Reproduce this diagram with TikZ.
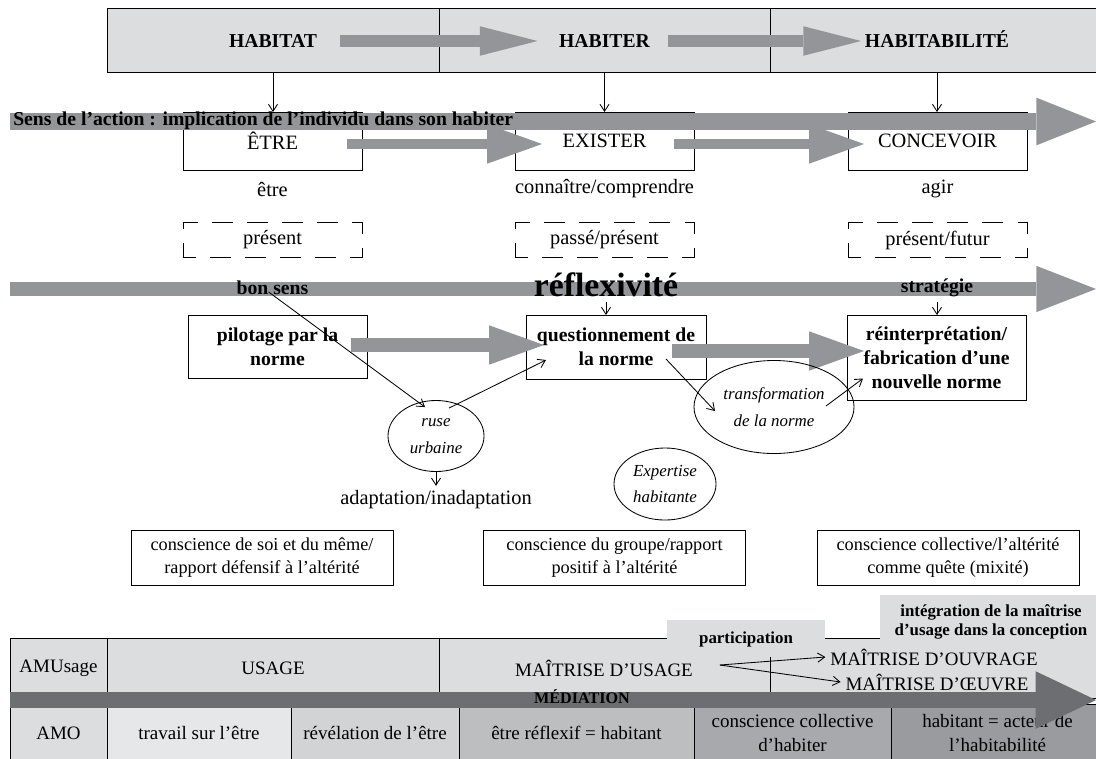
\documentclass[tikz,border=0pt]{standalone}
\usepackage{fontspec}
\setmainfont{Liberation Serif}
\usetikzlibrary{arrows.meta,shapes.geometric,calc,positioning}
\definecolor{grisfleche}{HTML}{939598}
\definecolor{grisfonce}{HTML}{6D6E71}
\definecolor{grisclair}{HTML}{DCDDDE}
\definecolor{gris1}{HTML}{E6E7E8}
\definecolor{gris2}{HTML}{D1D3D4}
\definecolor{gris3}{HTML}{BCBEC0}
\definecolor{gris4}{HTML}{A7A9AC}
\definecolor{gris5}{HTML}{999B9E}
\newcommand{\ftexte}{\fontsize{13}{16.5}\selectfont}
\newcommand{\fligne}{\fontsize{14.5}{17}\selectfont}
\newcommand{\fcap}{\fontsize{14.5}{17}\selectfont}
\newcommand{\fcase}{\fontsize{13.5}{16.5}\selectfont}
\newcommand{\fgras}{\fontsize{14}{17}\selectfont\bfseries}
\newcommand{\fgrand}{\fontsize{24}{26}\selectfont\bfseries}
\newcommand{\fital}{\fontsize{12}{19}\selectfont\itshape}
\newcommand{\fpetit}{\fontsize{12}{14}\selectfont\bfseries}
\newcommand{\fmed}{\fontsize{11.5}{13}\selectfont\bfseries}

\begin{document}
\begin{tikzpicture}[x=0.025cm, y=-0.025cm, >={Straight Barb[length=5pt,width=6.5pt]},
	cellule/.style={draw, fill=grisclair, line width=0.6pt, inner sep=0pt, outer sep=0pt, minimum height=1.6cm, text height=10pt, text depth=0pt, font=\fgras},
	boite/.style={draw, fill=white, line width=0.6pt, inner sep=2pt, outer sep=0pt, align=center, minimum width=4.475cm},
	pointille/.style={draw, line width=0.6pt, dash pattern=on 15pt off 10pt, dash phase=6pt, inner sep=0pt, outer sep=0pt, minimum width=4.475cm, minimum height=0.875cm, font=\fligne},
	bulle/.style={draw, ellipse, line width=0.6pt, inner sep=0pt, align=center, font=\fital},
	case/.style={draw, line width=0.6pt, inner sep=0pt, outer sep=0pt, minimum height=1.5cm, align=center, font=\fcase},
	fleche/.style={->, line width=0.6pt},
	bande/.style={draw=grisfleche, line width=#1},
	grosse fleche/.style={draw=grisfleche, line width=#1, -{Triangle[length=39pt,width=28pt,line width=0pt]}}]
	\useasboundingbox (0,0) rectangle (1096,758);
	%Bandeau haut
	\node [cellule, minimum width=8.3cm] (habitat) at (273,40) {HABITAT};
	\node [cellule, minimum width=8.275cm] (habiter) at (604.5,40) {HABITER};
	\node [cellule, minimum width=8.35cm] (habitabilite) at (937,40) {HABITABILITÉ};
	\draw [draw=grisfleche, line width=8.5pt, -{Triangle[length=41pt,width=21pt,line width=0pt]}] ($(habitat.center)+(67,1)$) -- ($(habiter.center)+(-67,1)$);
	\draw [draw=grisfleche, line width=8.5pt, -{Triangle[length=41pt,width=21pt,line width=0pt]}] ($(habiter.center)+(63,1)$) -- ($(habitabilite.center)+(-76,1)$);
	%Etre, exister, concevoir
	\node [boite, font=\fcap, minimum height=1.45cm] (etre) at (272.5,141) {ÊTRE};
	\node [boite, font=\fcap, minimum height=1.45cm] (exister) at (604.5,141) {EXISTER};
	\node [boite, font=\fcap, minimum height=1.45cm] (concevoir) at (937.5,141) {CONCEVOIR};
	\foreach \a/\b in {habitat/etre, habiter/exister, habitabilite/concevoir}
		\draw [fleche] (\a.south) -- (\a.south |- \b.north);
	%Sens de l'action
	\coordinate (sens0) at (10,121.5);
	\coordinate (sens1) at (1096,121.5);
	\draw [bande=12pt, -{Triangle[length=42.5pt,width=34pt,line width=0pt]}] (sens0) -- (sens1);
	\node [anchor=west, inner sep=0pt, font=\fgras] (sens) at (13,121) {Sens de l'action : implication de l'individu dans son habiter};
	\draw [grosse fleche=7.8pt] ($(etre.east)+(-15,3)$) -- ($(exister.west)+(27,3)$);
	\draw [grosse fleche=7.8pt] ($(exister.east)+(-20,3)$) -- ($(concevoir.west)+(16,3)$);
	\node [font=\fligne] (etre2) at (272.5,189) {être};
	\node [font=\fligne] (connaitre) at (604.5,189) {connaître/comprendre};
	\node [font=\fligne] (agir) at (937.5,189) {agir};
	\node [pointille] (present) at (272.5,240) {présent};
	\node [pointille] (passe) at (604.5,240) {passé/présent};
	\node [pointille] (futur) at (937.5,240) {présent/futur};
	%Reflexivite
	\coordinate (refl0) at (10,289);
	\coordinate (refl1) at (1096,289);
	\draw [bande=10.6pt, -{Triangle[length=42.5pt,width=33pt,line width=0pt]}] (refl0) -- (refl1);
	\node [font=\fgras] (bonsens) at (272.5,288) {bon sens};
	\node [font=\fgrand] (reflexivite) at (606,285) {réflexivité};
	\node [font=\fgras] (strategie) at (937,288) {stratégie};
	%Normes
	\node [boite, font=\fgras, minimum height=1.575cm] (pilotage) at (277.5,346.5) {pilotage par la\\norme};
	\node [boite, font=\fgras, minimum width=4.5cm, minimum height=1.6cm] (question) at (616,347) {questionnement de\\la norme};
	\node [boite, font=\fgras, minimum height=2.125cm] (rein) at (936.5,357.5) {réinterprétation/\\fabrication d'une\\nouvelle norme};
	\draw [fleche] (reflexivite.south) -- (reflexivite.south |- question.north);
	\draw [fleche] (strategie.south) -- (strategie.south |- rein.north);
	\draw [grosse fleche=10pt] ($(pilotage.east)+(-16,-1.5)$) -- ($(question.west)+(18,-2)$);
	\draw [grosse fleche=10pt] ($(question.east)+(-34,4)$) -- ($(rein.west)+(17,-6.5)$);
	%Bulles
	\node [bulle, minimum width=2.4cm, minimum height=1.775cm] (ruse) at (436,436) {ruse\\urbaine};
	\node [bulle, minimum width=4cm, minimum height=2.325cm] (transformation) at (774,407) {transformation\\de la norme};
	\node [bulle, minimum width=2.55cm, minimum height=1.8cm] (expertise) at (665,484) {Expertise\\habitante};
	\node [font=\fligne] (adaptation) at (436,500) {adaptation/inadaptation};
	\draw [fleche] ($(bonsens.south)+(-4,-8)$) -- ($(ruse.north)+(-11,7)$);
	\draw [fleche] ($(ruse.north)+(13,8)$) -- ($(question.west)+(20,13)$);
	\draw [fleche] (ruse.south) -- (adaptation.north);
	\draw [fleche] ($(question.center)+(50,12)$) -- ($(transformation.center)+(-59,4)$);
	\draw [fleche] ($(transformation.center)+(52,-1)$) -- ($(rein.west)+(16,21)$);
	%Consciences
	\node [boite, font=\ftexte, minimum width=6.55cm, minimum height=1.375cm] (soi) at (262,557.5) {conscience de soi et du même/\\rapport défensif à l'altérité};
	\node [boite, font=\ftexte, minimum width=6.55cm, minimum height=1.375cm] (groupe) at (614.5,557.5) {conscience du groupe/rapport\\positif à l'altérité};
	\node [boite, font=\ftexte, minimum width=6.55cm, minimum height=1.375cm] (collectif) at (948,557.5) {conscience collective/l'altérité\\comme quête (mixité)};
	%Tableau
	\node [case, fill=grisclair, minimum width=2.425cm] (amusage) at (58.5,668) {AMUsage};
	\node [case, fill=grisclair, minimum width=8.3cm] (usage) at (273,668) {USAGE};
	\draw [line width=0.6pt, fill=grisclair] (439,638) rectangle (1104,698);
	\fill [grisclair] (667,620) rectangle (825,697);
	\fill [grisclair] (880,595) rectangle (1104,697);
	\draw [line width=0.6pt] (770,657) -- (770,698);
	\node [font=\fcase] (mu) at (604,668) {MAÎTRISE D'USAGE};
	\node [font=\fpetit] (participation) at (746,639) {participation};
	\node [font=\fpetit, align=center] (integration) at (991,622) {intégration de la maîtrise\\d'usage dans la conception};
	\node [font=\fcase] (ouvrage) at (934,657) {MAÎTRISE D'OUVRAGE};
	\node [font=\fcase] (oeuvre) at (937,682) {MAÎTRISE D'ŒUVRE};
	\draw [fleche] ($(mu.east)+(22,-3)$) -- (ouvrage.west);
	\draw [fleche] ($(mu.east)+(22,-3)$) -- (oeuvre.west);
	\node [case, fill=grisclair, minimum width=2.425cm, minimum height=1.45cm] (amo) at (58.5,733) {AMO};
	\node [case, fill=gris1, minimum width=4.6cm, minimum height=1.45cm] (travail) at (199,733) {travail sur l'être};
	\node [case, fill=gris2, minimum width=4.2cm, minimum height=1.45cm] (revelation) at (375,733) {révélation de l'être};
	\node [case, fill=gris3, minimum width=5.875cm, minimum height=1.45cm] (reflexif) at (576.5,733) {être réflexif = habitant};
	\node [case, fill=gris4, minimum width=4.925cm, minimum height=1.45cm] (collective) at (792.5,733) {conscience collective\\d'habiter};
	\node [case, fill=gris5, minimum width=5.325cm, minimum height=1.45cm] (acteur) at (997.5,733) {habitant = acteur de\\l'habitabilité};
	%Mediation
	\coordinate (med0) at (10,700);
	\coordinate (med1) at (1096,700);
	\draw [draw=grisfonce, line width=11.3pt, -{Triangle[length=43pt,width=41pt,line width=0pt]}] (med0) -- (med1);
	\node [font=\fmed] (mediation) at (582,697) {MÉDIATION};
\end{tikzpicture}
\end{document}
